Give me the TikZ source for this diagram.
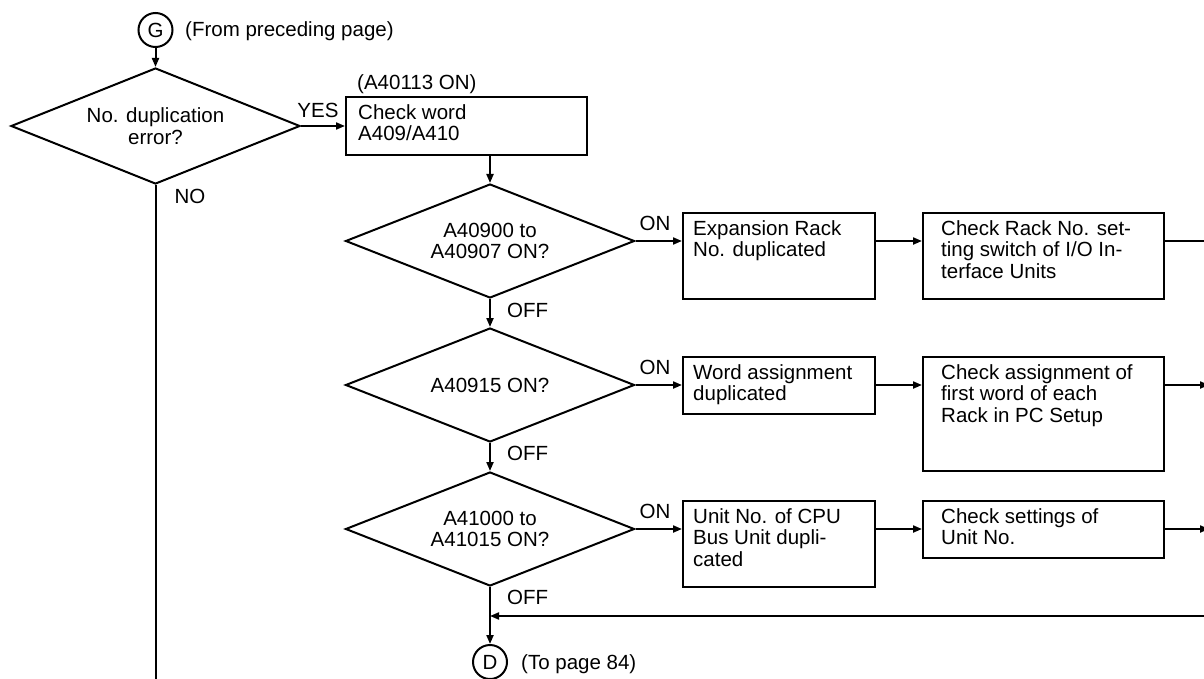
\documentclass[tikz,border=0pt]{standalone}
\usepackage{fontspec}
\setmainfont{Liberation Sans}
\usetikzlibrary{shapes.geometric,arrows.meta}
\newcommand\myfs{\fontsize{20.5}{21.5}\selectfont}
\tikzset{
  ln/.style={line width=2pt},
  arr/.style={line width=2pt,-{Triangle[length=9pt,width=7pt]}},
  dia/.style={draw,line width=2pt,diamond,aspect=2.5,inner sep=0pt,align=center,font=\myfs},
  box/.style={draw,line width=2pt,rectangle,inner sep=0pt},
  txt/.style={inner sep=0pt,align=left,anchor=north west,font=\myfs},
  conn/.style={draw,circle,line width=2pt,minimum size=34pt,inner sep=0pt,font=\myfs},
  lbl/.style={inner sep=0pt,font=\myfs}
}
\begin{document}
\begin{tikzpicture}[x=1pt,y=-1pt]
\useasboundingbox (0,0) rectangle (1204,679);
\fill[white] (0,0) rectangle (1204,679);

% connectors G / D
\node[conn] (G) at (155.5,30) {G};
\node[lbl,anchor=base west] (fromtxt) at (185,37) {(From preceding page)};
\node[conn] (D) at (490,662) {D};
\node[lbl,anchor=base west] (totxt) at (521,669) {(To page 84)};

% decisions
\node[dia,minimum width=289pt,minimum height=116pt] (d1) at (155.5,126) {No. duplication\\error?};
\node[dia,minimum width=289pt,minimum height=114pt] (d2) at (490,241) {A40900 to\\A40907 ON?};
\node[dia,minimum width=289pt,minimum height=114pt] (d3) at (490,385) {A40915 ON?};
\node[dia,minimum width=289pt,minimum height=114pt] (d4) at (490,529) {A41000 to\\A41015 ON?};

% boxes
\node[box,minimum width=241pt,minimum height=58pt] (b0) at (466.5,126) {};
\node[txt] (t0) at ([xshift=13pt,yshift=-8pt]b0.north west) {Check word\\A409/A410};
\node[lbl,anchor=base west] (a113) at (357,90) {(A40113 ON)};

\node[box,minimum width=192pt,minimum height=86pt] (b1) at (779,256) {};
\node[txt] (t1) at ([xshift=11pt,yshift=-8pt]b1.north west) {Expansion Rack\\No. duplicated};
\node[box,minimum width=241pt,minimum height=86pt] (b2) at (1043.5,256) {};
\node[txt] (t2) at ([xshift=19pt,yshift=-8pt]b2.north west) {Check Rack No. set-\\ting switch of I/O In-\\terface Units};

\node[box,minimum width=192pt,minimum height=57pt] (b3) at (779,385.5) {};
\node[txt] (t3) at ([xshift=11pt,yshift=-8pt]b3.north west) {Word assignment\\duplicated};
\node[box,minimum width=241pt,minimum height=114pt] (b4) at (1043.5,414) {};
\node[txt] (t4) at ([xshift=19pt,yshift=-8pt]b4.north west) {Check assignment of\\first word of each\\Rack in PC Setup};

\node[box,minimum width=192pt,minimum height=86pt] (b5) at (779,544) {};
\node[txt] (t5) at ([xshift=11pt,yshift=-8pt]b5.north west) {Unit No. of CPU\\Bus Unit dupli-\\cated};
\node[box,minimum width=241pt,minimum height=57pt] (b6) at (1043.5,529.5) {};
\node[txt] (t6) at ([xshift=19pt,yshift=-8pt]b6.north west) {Check settings of\\Unit No.};

% labels
\node[lbl,anchor=base] (yes) at (318,118) {YES};
\node[lbl,anchor=base] (no) at (190,204) {NO};
\node[lbl,anchor=base] (on1) at (655,230) {ON};
\node[lbl,anchor=base] (on2) at (655,374) {ON};
\node[lbl,anchor=base] (on3) at (655,518) {ON};
\node[lbl,anchor=base west] (off1) at (507,317) {OFF};
\node[lbl,anchor=base west] (off2) at (507,460) {OFF};
\node[lbl,anchor=base west] (off3) at (507,604) {OFF};

% free ends
\coordinate (noend) at (155.5,690);
\coordinate (rt1) at (1209,241);
\coordinate (rt4) at (1209,616);

% connectors
\draw[arr] (G) -- (d1.north);
\draw[arr] (d1.east) -- (d1.east -| b0.west);
\draw[ln] (d1.south) -- (noend);
\draw[arr] (b0.south -| d2.north) -- (d2.north);
\draw[arr] (d2.east) -- (d2.east -| b1.west);
\draw[arr] (d2.east -| b1.east) -- (d2.east -| b2.west);
\draw[ln] (d2.east -| b2.east) -- (rt1) -- (rt4);
\draw[arr] (d2.south) -- (d3.north);
\draw[arr] (d3.east) -- (d3.east -| b3.west);
\draw[arr] (d3.east -| b3.east) -- (d3.east -| b4.west);
\draw[arr] (d3.east -| b4.east) -- (d3.east -| rt1);
\draw[arr] (d3.south) -- (d4.north);
\draw[arr] (d4.east) -- (d4.east -| b5.west);
\draw[arr] (d4.east -| b5.east) -- (d4.east -| b6.west);
\draw[arr] (d4.east -| b6.east) -- (d4.east -| rt1);
\draw[arr] (rt4) -- (rt4 -| d4.south);
\draw[arr] (d4.south) -- (D.north);
\end{tikzpicture}
\end{document}
